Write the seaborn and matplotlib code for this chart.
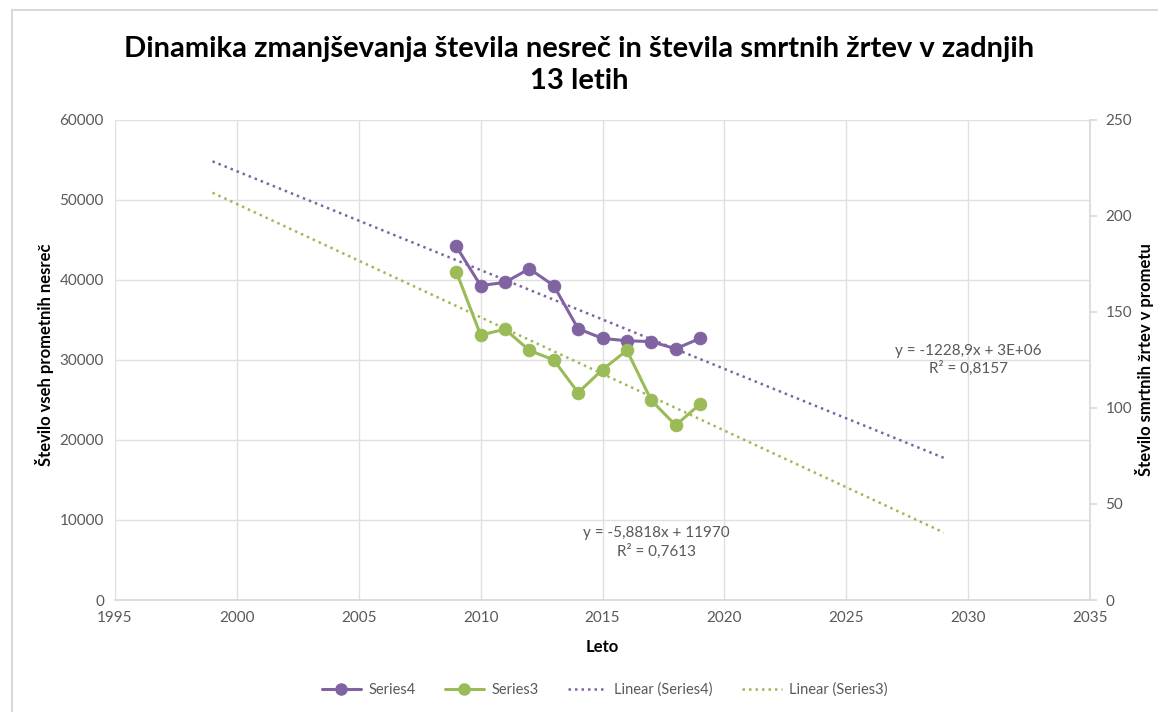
import numpy as np
import pandas as pd
import matplotlib
matplotlib.use("Agg")
import matplotlib.pyplot as plt
import seaborn as sns
from matplotlib.lines import Line2D

years = [2009, 2010, 2011, 2012, 2013, 2014, 2015, 2016, 2017, 2018, 2019]
accidents = [44200, 39300, 39700, 41400, 39300, 33900, 32700, 32400, 32300, 31400, 32700]
fatalities = [171, 138, 141, 130, 125, 108, 120, 130, 104, 91, 102]
trend_years = [1999, 2029]
x_ticks = [1995, 2000, 2005, 2010, 2015, 2020, 2025, 2030, 2035]
left_ticks = [0, 10000, 20000, 30000, 40000, 50000, 60000]
right_ticks = [0, 50, 100, 150, 200, 250]

title = "Dinamika zmanjševanja števila nesreč in števila smrtnih žrtev v zadnjih\n13 letih"
xlabel = "Leto"
ylabel_left = "Število vseh prometnih nesreč"
ylabel_right = "Število smrtnih žrtev v prometu"
eq4 = "y = -1228,9x + 3E+06\nR² = 0,8157"
eq3 = "y = -5,8818x + 11970\nR² = 0,7613"

purple = "#8064A2"
green = "#9BBB59"
gray_text = "#595959"

sns.set_theme(style="white")
plt.rcParams['font.family'] = ['Lato', 'DejaVu Sans']

df = pd.DataFrame({"Leto": years, "Series4": accidents, "Series3": fatalities})

fig = plt.figure(figsize=(11.58, 7.12), dpi=100)
ax = fig.add_axes([0.0993, 0.1573, 0.8420, 0.6742])
ax2 = ax.twinx()

# fits
c4 = np.polyfit(years, accidents, 1)
c3 = np.polyfit(years, fatalities, 1)
tx = np.array(trend_years, dtype=float)
tdf = pd.DataFrame({"x": tx, "t4": np.polyval(c4, tx), "t3": np.polyval(c3, tx)})

dot = (0, (1, 1.6))
sns.lineplot(data=tdf, x="x", y="t4", ax=ax, color=purple, lw=1.8, linestyle=dot, zorder=2)
sns.lineplot(data=df, x="Leto", y="Series4", ax=ax, color=purple, lw=2.2, marker="o",
             markersize=9, markeredgecolor=purple, zorder=3)
sns.lineplot(data=tdf, x="x", y="t3", ax=ax2, color=green, lw=1.8, linestyle=dot, zorder=2)
sns.lineplot(data=df, x="Leto", y="Series3", ax=ax2, color=green, lw=2.2, marker="o",
             markersize=9, markeredgecolor=green, zorder=3)

ax.set_xlim(1995, 2035)
ax.set_ylim(0, 60000)
ax2.set_ylim(0, 250)
ax.set_xticks(x_ticks)
ax.set_yticks(left_ticks)
ax2.set_yticks(right_ticks)
ax.grid(True, color="#E0E0E0", lw=1)
ax2.grid(False)
for a in (ax, ax2):
    for s in a.spines.values():
        s.set_visible(False)
    a.tick_params(labelsize=11, colors=gray_text, length=0, pad=8)
ax2.spines["right"].set_visible(True)
ax2.spines["right"].set_color("#D9D9D9")
ax2.tick_params(axis="y", length=5, color="#D9D9D9", pad=6)
ax.spines["bottom"].set_visible(True)
ax.spines["bottom"].set_color("#D9D9D9")

ax.set_xlabel(xlabel, fontsize=12, fontweight="bold", color="black", labelpad=10)
ax.set_ylabel("")
ax2.set_ylabel("")
fig.text(45/1158, 1 - 355/712, ylabel_left, rotation=90, ha="center", va="center",
         fontsize=12, fontweight="bold", color="black")
fig.text(1145/1158, 1 - 360/712, ylabel_right, rotation=90, ha="center", va="center",
         fontsize=12, fontweight="bold", color="black")

ax.text(2030.0, 30000, eq4, ha="center", va="center", fontsize=11, color=gray_text,
        linespacing=1.3, zorder=5)
ax.text(2017.2, 7200, eq3, ha="center", va="center", fontsize=11, color=gray_text,
        linespacing=1.3, zorder=5)

fig.suptitle(title, fontsize=21, fontweight="bold", y=0.95, linespacing=1.3, color="black")

handles = [
    Line2D([], [], color=purple, lw=2.2, marker="o", markersize=8),
    Line2D([], [], color=green, lw=2.2, marker="o", markersize=8),
    Line2D([], [], color=purple, lw=1.8, linestyle=dot),
    Line2D([], [], color=green, lw=1.8, linestyle=dot),
]
labels = ["Series4", "Series3", "Linear (Series4)", "Linear (Series3)"]
leg = fig.legend(handles, labels, loc="center", bbox_to_anchor=(0.522, 0.031), ncol=4,
                 frameon=False, fontsize=10.5, handlelength=2.7, handletextpad=0.5,
                 columnspacing=2.0)
for t in leg.get_texts():
    t.set_color(gray_text)

# chart border
fig.add_artist(Line2D([12/1158, 12/1158], [0, 1 - 10/712], transform=fig.transFigure, color="#D9D9D9", lw=1.5))
fig.add_artist(Line2D([12/1158, 1], [1 - 10/712, 1 - 10/712], transform=fig.transFigure, color="#D9D9D9", lw=1.5))

fig.savefig("out.png", dpi=100)
